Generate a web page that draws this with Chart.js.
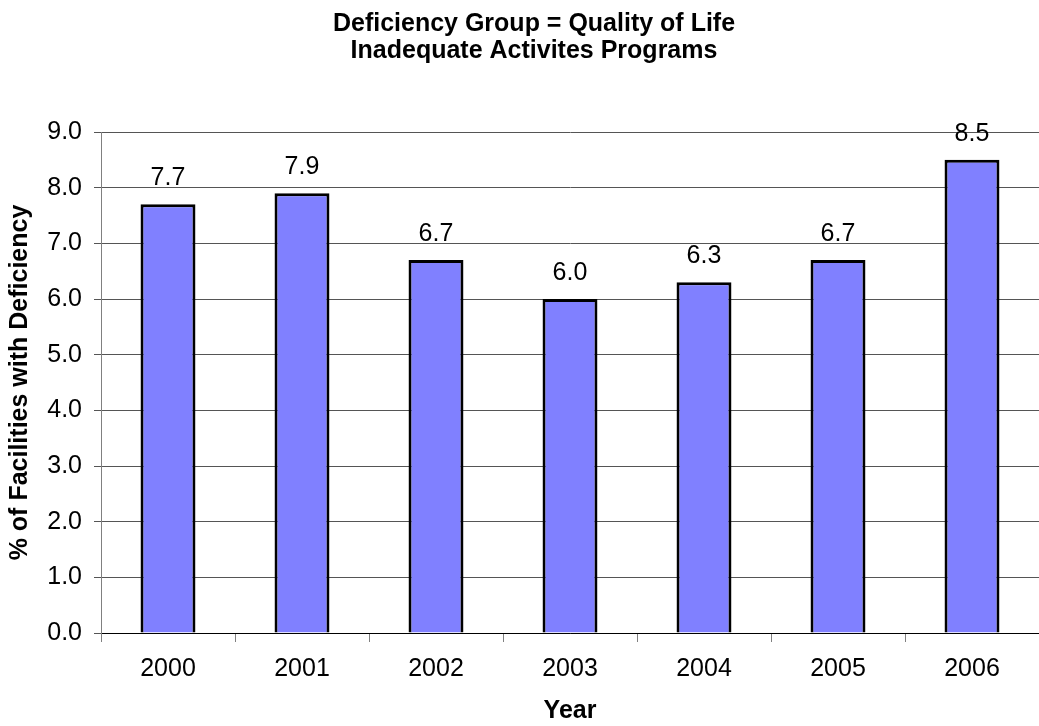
<!DOCTYPE html>
<html>
<head>
<meta charset="utf-8">
<script src="https://cdn.jsdelivr.net/npm/chart.js@4/dist/chart.umd.min.js"></script>
<style>
  body { margin: 0; background: #fff; }
  canvas { display: block; }
</style>
</head>
<body>
<canvas id="myChart" width="1039" height="726"></canvas>
<script>
// Our labels along the x-axis
var years = ['2000','2001','2002','2003','2004','2005','2006'];
// Percent of facilities with deficiency
var pct = [7.7, 7.9, 6.7, 6.0, 6.3, 6.7, 8.5];
var titleLines = ['Deficiency Group = Quality of Life', 'Inadequate Activites Programs'];

var FONT = "'Liberation Sans', Arial, sans-serif";

// two line title, drawn by hand so it sits where the original has it
var topTitle = {
  id: 'topTitle',
  afterDraw: function(chart) {
    var c = chart.ctx;
    c.save();
    c.font = 'bold 25px ' + FONT;
    c.fillStyle = '#000';
    c.textAlign = 'center';
    c.textBaseline = 'alphabetic';
    c.fillText(titleLines[0], 534, 31);
    c.fillText(titleLines[1], 534, 58);
    c.restore();
  }
};

// writes the value above each bar
var barLabels = {
  id: 'barLabels',
  afterDatasetsDraw: function(chart) {
    var c = chart.ctx;
    var meta = chart.getDatasetMeta(0);
    c.save();
    c.font = '25px ' + FONT;
    c.fillStyle = '#000';
    c.textAlign = 'center';
    c.textBaseline = 'alphabetic';
    meta.data.forEach(function(bar, i) {
      c.fillText(pct[i].toFixed(1), bar.x, bar.y - 19);
    });
    c.restore();
  }
};

var ctx = document.getElementById('myChart');
var myChart = new Chart(ctx, {
  type: 'bar',
  data: {
    labels: years,
    datasets: [
      {
        data: pct,
        backgroundColor: '#8080ff',
        borderColor: '#000000',
        borderWidth: 3,
        barPercentage: 0.41,
        categoryPercentage: 1
      }
    ]
  },
  options: {
    responsive: false,
    animation: false,
    layout: { padding: { top: 132, right: -8, left: 0, bottom: 0 } },
    plugins: {
      legend: { display: false },
      tooltip: { enabled: false },
      title: { display: false }
    },
    scales: {
      x: {
        grid: { offset: true, drawOnChartArea: false, color: '#808080', tickLength: 9 },
        border: { color: '#000', width: 1 },
        ticks: { color: '#000', font: { family: FONT, size: 25 }, padding: 12 },
        title: {
          display: true, text: 'Year', color: '#000',
          font: { family: FONT, size: 25, weight: 'bold' }, padding: { top: 0, bottom: 0 }
        },
        afterFit: function(scale) { scale.height = 93; }
      },
      y: {
        min: 0,
        max: 9,
        grid: { color: '#555', tickLength: 7 },
        border: { color: '#808080', width: 1 },
        ticks: {
          stepSize: 1, color: '#000', font: { family: FONT, size: 25 }, padding: 12,
          callback: function(v) { return v.toFixed(1); }
        },
        title: {
          display: true, text: '% of Facilities with Deficiency', color: '#000',
          font: { family: FONT, size: 25, weight: 'bold' }, padding: { top: 5, bottom: 0 }
        },
        afterFit: function(scale) { scale.width = 101; }
      }
    }
  },
  plugins: [barLabels, topTitle]
});
</script>
</body>
</html>
